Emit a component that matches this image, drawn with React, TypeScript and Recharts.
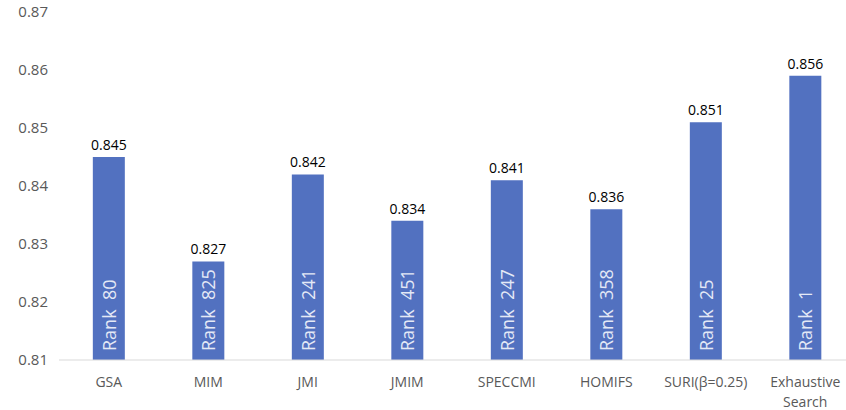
import React from 'react';
import { BarChart, Bar, XAxis, YAxis, LabelList } from 'recharts';

const methods = ['GSA', 'MIM', 'JMI', 'JMIM', 'SPECCMI', 'HOMIFS', 'SURI(β=0.25)', 'Exhaustive Search'];
const accuracy = [0.845, 0.827, 0.842, 0.834, 0.841, 0.836, 0.851, 0.859];
const valueLabels = ['0.845', '0.827', '0.842', '0.834', '0.841', '0.836', '0.851', '0.856'];
const ranks = [80, 825, 241, 451, 247, 358, 25, 1];
const yTicks = [0.81, 0.82, 0.83, 0.84, 0.85, 0.86, 0.87];

const data = methods.map((m, i) => ({ method: m, accuracy: accuracy[i], idx: i }));

const FONT = '"Open Sans", sans-serif';

const XTick = (props: any) => {
  const { x, y, payload } = props;
  const lines = String(payload.value).split(' ');
  return (
    <text x={x} y={y} textAnchor="middle" fill="#595959" fontSize={14} fontFamily={FONT}>
      {lines.map((l, i) => (
        <tspan key={i} x={x} dy={i === 0 ? 19 : 20}>{l}</tspan>
      ))}
    </text>
  );
};

const TopLabel = (props: any) => {
  const { x, y, width, index } = props;
  return (
    <text x={x + width / 2} y={y - 7} textAnchor="middle" fill="#000" fontSize={14} fontFamily={FONT}>
      {valueLabels[index]}
    </text>
  );
};

const RankLabel = (props: any) => {
  const { x, y, width, height, index } = props;
  const cx = x + width / 2;
  const by = y + height - 9;
  return (
    <text
      x={cx}
      y={by}
      transform={`rotate(-90 ${cx} ${by})`}
      textAnchor="start"
      dominantBaseline="central"
      fill="#e4e9f6"
      fontSize={18}
      fontFamily={FONT}
      style={{ whiteSpace: 'pre' }}
    >
      {`Rank  ${ranks[index]}`}
    </text>
  );
};

export default function App() {
  return (
    <div style={{ position: 'absolute', left: 0, top: 0, width: 846, height: 410, overflow: 'hidden', background: '#fff' }}>
      <BarChart
        width={855}
        height={410}
        data={data}
        margin={{ top: 12, right: 0, bottom: 20, left: 0 }}
        barCategoryGap="34%"
      >
        <XAxis
          dataKey="method"
          interval={0}
          tickLine={false}
          axisLine={{ stroke: '#d9d9d9' }}
          tick={<XTick />}
        />
        <YAxis
          width={59}
          domain={[0.81, 0.87]}
          ticks={yTicks}
          allowDataOverflow
          axisLine={false}
          tickLine={false}
          tickSize={0}
          tickMargin={11}
          tickFormatter={(v: number) => v.toFixed(2)}
          tick={{ fill: '#595959', fontSize: 15, fontFamily: FONT }}
        />
        <Bar dataKey="accuracy" fill="#5271c0" isAnimationActive={false}>
          <LabelList dataKey="accuracy" content={<TopLabel />} />
          <LabelList dataKey="accuracy" content={<RankLabel />} />
        </Bar>
      </BarChart>
    </div>
  );
}
